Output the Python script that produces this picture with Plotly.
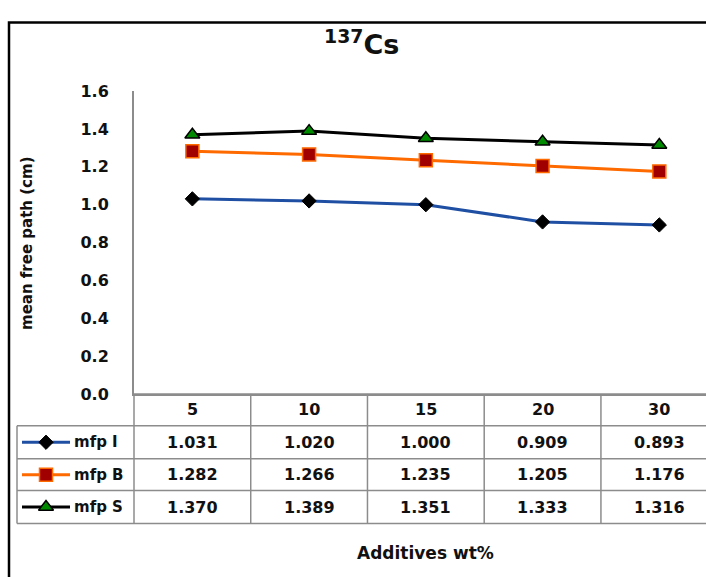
import plotly.graph_objects as go

W, H = 706, 577

# Data
additives = ["5", "10", "15", "20", "30"]
mfp_i = [1.031, 1.020, 1.000, 0.909, 0.893]
mfp_b = [1.282, 1.266, 1.235, 1.205, 1.176]
mfp_s = [1.370, 1.389, 1.351, 1.333, 1.316]
series_names = ["mfp I", "mfp B", "mfp S"]
y_ticks = [0.0, 0.2, 0.4, 0.6, 0.8, 1.0, 1.2, 1.4, 1.6]

series_values = [mfp_i, mfp_b, mfp_s]
styles = [
    dict(line=dict(color="#1f4fa3", width=3),
         marker=dict(symbol="diamond", size=11, color="#000000",
                     line=dict(color="#000000", width=1))),
    dict(line=dict(color="#ff6a00", width=3),
         marker=dict(symbol="square", size=13, color="#a00000",
                     line=dict(color="#ff6a00", width=1.5))),
    dict(line=dict(color="#000000", width=3),
         marker=dict(symbol="triangle-up", size=13, color="#008a00",
                     line=dict(color="#000000", width=1.5))),
]

FONT = "DejaVu Sans"
TXT = "#111111"
GRID = "#8c8c8c"


def px(x):
    return x / W


def py(y):
    # pixel row (from top) -> paper fraction
    return 1 - y / H


# pixel layout of the plot area and data table
AX_LEFT, AX_TOP, AX_BOTTOM = 134, 85, 398
ROW_EDGES = [398, 431, 465, 498, 532]
TABLE_LEFT = 17

fig = go.Figure()

for name, vals, st in zip(series_names, series_values, styles):
    fig.add_trace(go.Scatter(
        x=additives, y=vals, name=name, mode="lines+markers",
        line=st["line"], marker=st["marker"], showlegend=False,
        xaxis="x", yaxis="y", cliponaxis=False,
    ))

shapes = []
annotations = []

# outer chart frame
shapes.append(dict(type="rect", xref="paper", yref="paper",
                   x0=px(9), x1=1.05, y0=py(14), y1=-0.05,
                   line=dict(color="#000000", width=2.5)))

# table horizontal rules
for k, ye in enumerate(ROW_EDGES):
    x0 = px(AX_LEFT) if k == 0 else px(TABLE_LEFT)
    shapes.append(dict(type="line", xref="paper", yref="paper",
                       x0=x0, x1=1.02, y0=py(ye), y1=py(ye),
                       line=dict(color=GRID, width=1.5)))

# table vertical rules
shapes.append(dict(type="line", xref="paper", yref="paper",
                   x0=px(TABLE_LEFT), x1=px(TABLE_LEFT),
                   y0=py(ROW_EDGES[1]), y1=py(ROW_EDGES[-1]),
                   line=dict(color=GRID, width=1.5)))
shapes.append(dict(type="line", xref="paper", yref="paper",
                   x0=px(AX_LEFT), x1=px(AX_LEFT),
                   y0=py(ROW_EDGES[0]), y1=py(ROW_EDGES[-1]),
                   line=dict(color=GRID, width=1.5)))
for i in range(len(additives) - 1):
    shapes.append(dict(type="line", xref="x", yref="paper",
                       x0=i + 0.5, x1=i + 0.5,
                       y0=py(ROW_EDGES[0]), y1=py(ROW_EDGES[-1]),
                       line=dict(color=GRID, width=1.5)))

cell_font = dict(family=FONT, size=16, color=TXT)

# header row: additive levels
hy = (ROW_EDGES[0] + ROW_EDGES[1]) / 2
for i, a in enumerate(additives):
    annotations.append(dict(xref="x", yref="paper", x=i, y=py(hy),
                            text="<b>%s</b>" % a, showarrow=False,
                            font=cell_font, xanchor="center", yanchor="middle"))

# value rows with legend keys
for r, (name, vals, st) in enumerate(zip(series_names, series_values, styles)):
    cy = (ROW_EDGES[r + 1] + ROW_EDGES[r + 2]) / 2
    for i, v in enumerate(vals):
        annotations.append(dict(xref="x", yref="paper", x=i, y=py(cy),
                                text="<b>%.3f</b>" % v, showarrow=False,
                                font=cell_font, xanchor="center", yanchor="middle"))
    annotations.append(dict(xref="paper", yref="paper", x=px(72), y=py(cy),
                            text="<b>%s</b>" % name, showarrow=False,
                            font=dict(family=FONT, size=15, color=TXT),
                            xanchor="left", yanchor="middle"))
    fig.add_trace(go.Scatter(x=[22, 70], y=[cy, cy], mode="lines",
                             line=st["line"], showlegend=False,
                             xaxis="x2", yaxis="y2", hoverinfo="skip"))
    fig.add_trace(go.Scatter(x=[46], y=[cy], mode="markers",
                             marker=st["marker"], showlegend=False,
                             xaxis="x2", yaxis="y2", hoverinfo="skip"))

# title
annotations.append(dict(xref="paper", yref="paper", x=px(361), y=py(35),
                        text="<b><sup>137</sup>Cs</b>", showarrow=False,
                        font=dict(family=FONT, size=27, color=TXT),
                        xanchor="center", yanchor="middle"))
# axis titles
annotations.append(dict(xref="paper", yref="paper", x=px(27), y=py(243),
                        text="<b>mean free path (cm)</b>", showarrow=False,
                        textangle=-90,
                        font=dict(family=FONT, size=15, color=TXT),
                        xanchor="center", yanchor="middle"))
annotations.append(dict(xref="paper", yref="paper", x=px(425), y=py(563),
                        text="<b>Additives wt%</b>", showarrow=False,
                        font=dict(family=FONT, size=17, color=TXT),
                        xanchor="center", yanchor="middle"))

fig.update_layout(
    width=W, height=H,
    margin=dict(l=0, r=0, t=0, b=0),
    paper_bgcolor="white", plot_bgcolor="rgba(0,0,0,0)",
    showlegend=False,
    xaxis=dict(domain=[px(AX_LEFT), 1], type="category",
               range=[-0.5, 4.4], showgrid=False, zeroline=False,
               showticklabels=False, ticks="", showline=True,
               linecolor=GRID, linewidth=1.5, anchor="y", fixedrange=True),
    yaxis=dict(domain=[py(AX_BOTTOM), py(AX_TOP)], range=[0, 1.6],
               tickvals=y_ticks, ticktext=["<b>%.1f</b>" % t for t in y_ticks],
               showgrid=False, zeroline=False, showline=True,
               linecolor=GRID, linewidth=2, ticks="",
               ticklabelstandoff=20,
               tickfont=dict(family=FONT, size=16, color=TXT),
               anchor="x", fixedrange=True),
    xaxis2=dict(domain=[0, 1], range=[0, W], visible=False, anchor="y2",
                fixedrange=True),
    yaxis2=dict(domain=[0, 1], range=[H, 0], visible=False, anchor="x2",
                fixedrange=True),
    shapes=shapes,
    annotations=annotations,
)

fig.write_html("out.html")
